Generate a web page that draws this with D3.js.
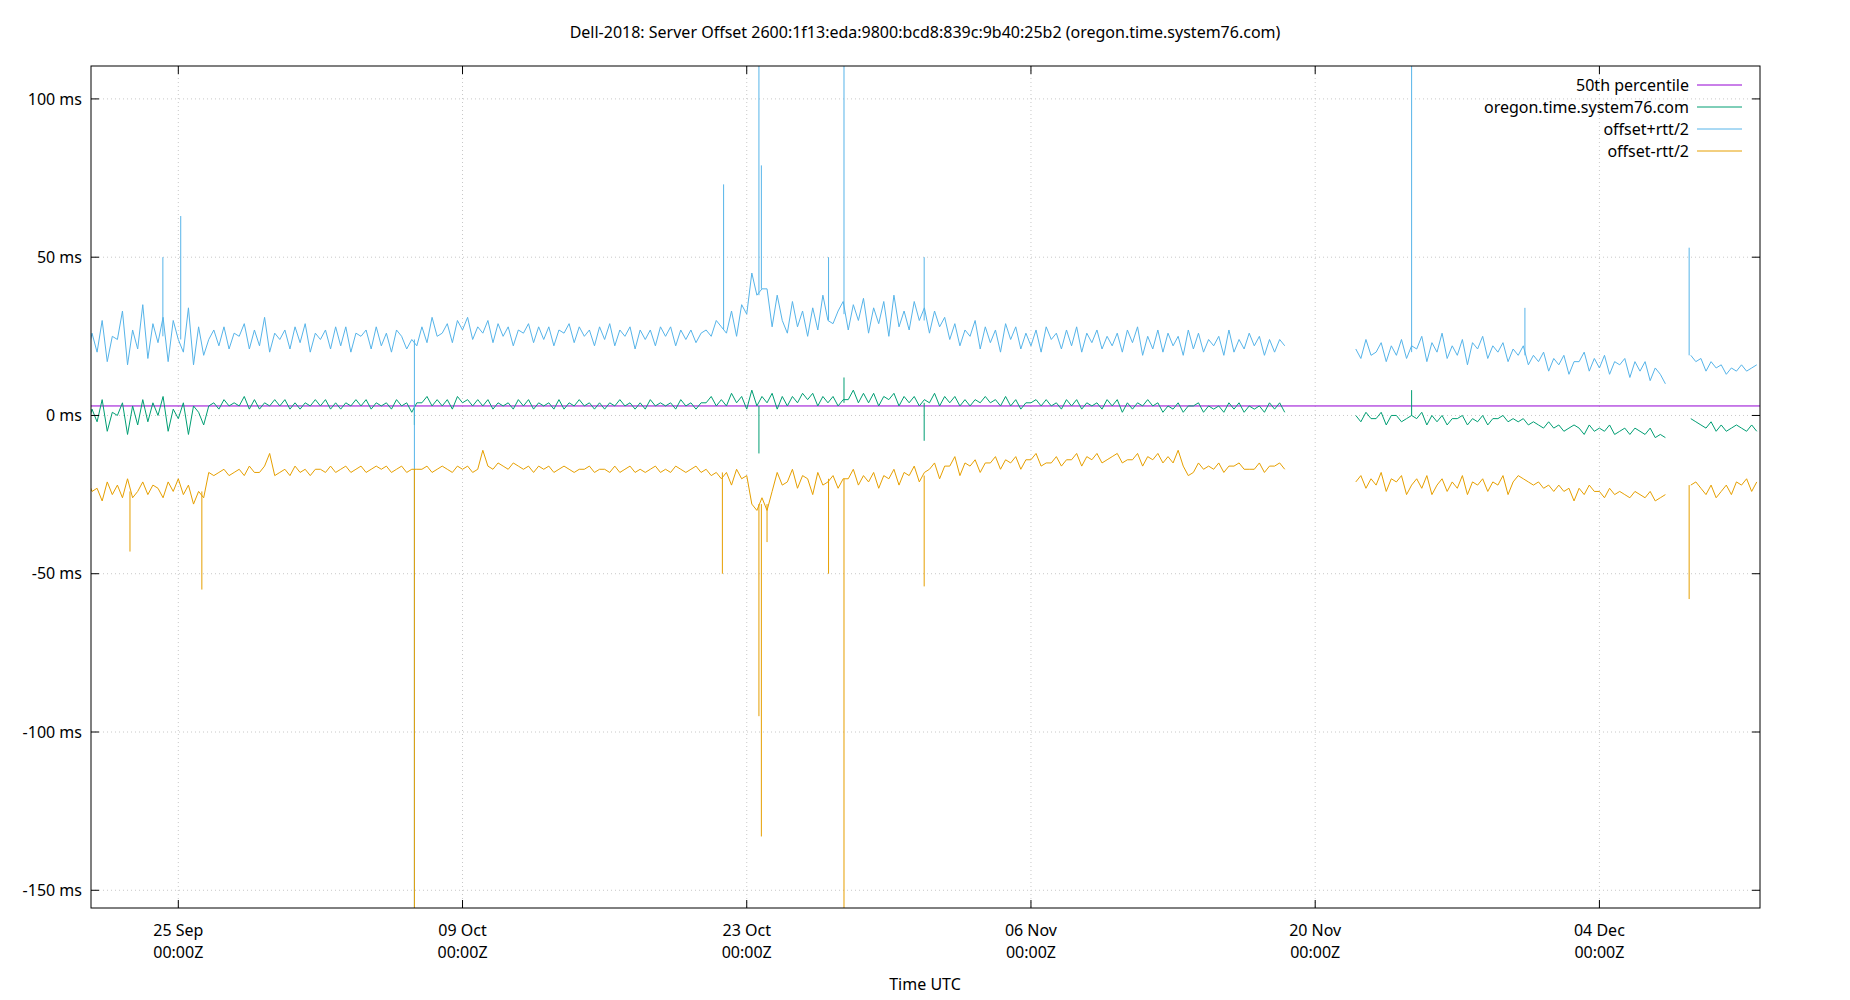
<!DOCTYPE html>
<html>
<head>
<meta charset="utf-8">
<script src="https://cdn.jsdelivr.net/npm/d3@7.9.0/dist/d3.min.js"></script>
<style>
  body { margin: 0; background: #fff; }
  text { font-family: "Noto Sans", sans-serif; fill: #000; }
</style>
</head>
<body>
<svg id="chart" width="1850" height="1000"></svg>
<script>
// samples every 6 hours, starting 2018-09-20 00:00Z (4 per row = one day)
const sampleStart = Date.UTC(2018, 8, 20);
const sampleStepHours = 6;

const offsetPlus = [
  22,28,18,26, 20,30,17,25, 24,33,16,27, 21,35,18,29, 23,31,17,30,
  24,20,34,16, 28,19,24,27, 22,28,21,26, 25,29,21,27, 22,31,20,26,
  24,27,21,28, 23,29,20,26, 24,27,21,28, 22,28,20,26, 25,27,21,28,
  22,26,20,27, 25,21,24,22, 28,23,31,25, 26,29,23,30, 27,31,24,28,
  26,30,23,29, 25,28,22,27, 26,29,23,28, 24,28,22,27, 26,29,23,28,
  25,27,22,28, 24,29,22,27, 25,28,21,27, 24,27,22,28, 25,28,22,27,
  24,27,23,26, 27,25,30,28, 26,33,25,35, 32,45,38,40, 40,28,38,30,
  26,36,28,33, 25,34,27,38, 30,29,33,36, 27,35,30,37, 26,34,29,36,
  25,38,28,33, 27,36,30,34, 26,33,28,31, 24,29,22,27, 25,30,21,28,
  23,27,20,29, 24,28,21,26, 22,27,20,28, 24,26,21,27, 22,28,20,26,
  23,27,21,25, 22,26,20,27, 23,28,19,25, 21,27,20,26, 22,25,19,27,
  21,26,20,24, 22,25,19,27, 20,24,21,26, 22,25,19,24, 20,24,22,null,
  null,null,null,null, null,null,null,null, null,null,null,null,
  21,18,24,19, 20,23,17,22, 19,24,18,22, 21,25,17,23, 20,26,18,22,
  19,24,16,23, 21,25,18,22, 20,23,17,21, 19,22,16,19, 17,20,14,18,
  16,19,13,17, 17,20,14,18, 15,19,13,17, 16,18,12,17, 14,17,11,15,
  13,10,null,null, null,null,19,17, 18,14,17,15, 16,13,15,14, 16,14,15,16
];

const offsetMid = [
  0,3,-4,2, -2,5,-5,1, 0,4,-6,3, -3,5,-2,4, 0,6,-5,2,
  -1,4,-6,3, 1,-3,3,4, 2,5,3,4, 3,6,2,5, 2,4,3,5,
  3,5,2,4, 2,4,3,5, 3,5,2,4, 2,4,3,5, 3,5,2,4,
  3,4,2,5, 3,4,1,4, 4,6,3,5, 3,5,2,6, 4,5,3,5,
  3,5,2,4, 3,4,2,5, 3,5,2,4, 3,4,2,5, 2,4,3,5,
  3,4,2,4, 2,4,3,5, 3,4,2,4, 2,5,3,4, 3,4,2,5,
  3,4,2,4, 4,6,3,5, 3,7,4,6, 2,8,3,6, 4,7,2,6,
  3,6,4,7, 5,7,3,6, 4,6,3,5, 5,8,4,7, 4,7,3,6,
  5,7,3,6, 4,6,3,5, 4,7,3,6, 4,6,3,5, 3,5,4,6,
  4,5,3,6, 3,5,2,4, 4,5,3,5, 3,4,2,5, 3,5,2,4,
  3,4,2,5, 3,5,1,4, 2,4,3,5, 3,4,1,3, 2,4,1,3,
  3,4,1,3, 2,3,1,4, 2,4,1,3, 2,3,1,4, 2,4,1,null,
  null,null,null,null, null,null,null,null, null,null,null,null,
  0,-2,1,-1, -1,1,-3,0, 0,-2,-1,0, -1,1,-3,0, -2,0,-3,-1,
  -1,0,-3,-1, -2,0,-3,-1, -1,0,-2,-1, -2,-1,-3,-2, -3,-4,-2,-4,
  -3,-5,-4,-3, -4,-6,-3,-5, -4,-5,-3,-6, -5,-4,-6,-4, -5,-6,-4,-7,
  -6,-7,null,null, null,null,-1,-2, -3,-4,-2,-5, -3,-5,-4,-3, -4,-5,-3,-5
];

const offsetMinus = [
  -22,-25,-20,-24, -23,-27,-21,-25, -22,-26,-20,-26, -24,-21,-25,-22, -23,-26,-21,-24,
  -20,-25,-22,-28, -24,-26,-18,-19, -18,-17,-19,-18, -17,-19,-16,-18, -18,-16,-12,-19,
  -18,-17,-19,-16, -18,-17,-19,-17, -17,-18,-16,-18, -17,-16,-18,-17, -16,-18,-17,-16,
  -17,-16,-18,-17, -16,-18,-17,-17, -17,-16,-18,-17, -16,-17,-18,-16, -17,-16,-18,-17,
  -11,-16,-17,-15, -16,-17,-15,-16, -17,-16,-18,-16, -17,-16,-18,-17, -16,-17,-18,-17,
  -17,-16,-18,-17, -17,-18,-16,-18, -17,-16,-18,-17, -18,-17,-16,-18, -17,-18,-16,-17,
  -18,-17,-16,-18, -17,-19,-18,-20, -18,-22,-17,-20, -19,-28,-30,-26, -30,-24,-18,-22,
  -21,-17,-23,-19, -20,-25,-18,-22, -21,-19,-23,-20, -20,-17,-22,-19, -21,-18,-23,-19,
  -20,-17,-22,-18, -19,-16,-21,-18, -17,-15,-20,-16, -16,-13,-19,-15, -16,-14,-18,-15,
  -15,-13,-17,-14, -15,-13,-17,-14, -14,-12,-16,-15, -15,-13,-16,-14, -14,-12,-16,-13,
  -14,-12,-15,-14, -13,-12,-15,-14, -14,-12,-16,-13, -14,-12,-15,-13, -15,-11,-16,-19,
  -18,-15,-17,-16, -17,-15,-18,-16, -16,-15,-17,-17, -17,-15,-18,-16, -16,-15,-17,null,
  null,null,null,null, null,null,null,null, null,null,null,null,
  -21,-19,-23,-20, -22,-18,-24,-20, -21,-19,-25,-22, -20,-23,-19,-25, -22,-20,-24,-21,
  -23,-19,-25,-21, -22,-20,-24,-21, -22,-19,-25,-21, -19,-20,-21,-22, -21,-23,-22,-24,
  -22,-24,-23,-27, -23,-25,-22,-24, -24,-26,-23,-25, -24,-25,-26,-24, -25,-26,-24,-27,
  -26,-25,null,null, null,null,-22,-21, -23,-25,-22,-26, -24,-22,-25,-21, -22,-20,-24,-21
];

// single-sample outliers: [day since start, from ms, to ms]
const spikesPlus = [
  [4.24, 25, 50], [5.12, 24, 63], [16.63, 24, -160], [31.86, 27, 73], [33.6, 38, 140],
  [33.72, 40, 79], [37.03, 30, 50], [37.79, 32, 140], [41.74, 30, 50], [65.75, 20, 140],
  [71.33, 19, 34], [79.42, 19, 53]
];
const spikesMid = [[33.6, 3, -12], [37.79, 4, 12], [65.75, 0, 8], [41.74, 4, -8], [16.63, 3, -3]];
const spikesMinus = [
  [2.62, -24, -43], [6.16, -24, -55], [16.63, -17, -160], [31.8, -18, -50], [33.6, -28, -95],
  [33.72, -28, -133], [34.0, -28, -40], [37.03, -20, -50], [37.79, -20, -160], [41.74, -19, -54],
  [79.42, -22, -58]
];

const percentile50 = 3;

const seriesNames = ["50th percentile", "oregon.time.system76.com", "offset+rtt/2", "offset-rtt/2"];
const seriesColors = ["#9400d3", "#009e73", "#56b4e9", "#e69f00"];

const yTicks = [100, 50, 0, -50, -100, -150];
const xTickDates = ["2018-09-25", "2018-10-09", "2018-10-23", "2018-11-06", "2018-11-20", "2018-12-04"];

const title = "Dell-2018: Server Offset 2600:1f13:eda:9800:bcd8:839c:9b40:25b2 (oregon.time.system76.com)";

// ---- layout
const margin = { left: 91, right: 1760, top: 66, bottom: 908 };
const svg = d3.select("#chart");

const day = 86400000;
const x = d3.scaleUtc()
  .domain([new Date(sampleStart + 0.70 * day), new Date(sampleStart + 82.91 * day)])
  .range([margin.left, margin.right]);
const y = d3.scaleLinear().domain([-155.6, 110.4]).range([margin.bottom, margin.top]);

const times = offsetMid.map((_, i) => new Date(sampleStart + i * sampleStepHours * 3600000));

svg.append("defs").append("clipPath").attr("id", "clip")
  .append("rect").attr("x", margin.left).attr("y", margin.top)
  .attr("width", margin.right - margin.left).attr("height", margin.bottom - margin.top);

// grid
const grid = svg.append("g").attr("stroke", "#c8c8c8").attr("stroke-dasharray", "1,3");
grid.selectAll(".gy").data(yTicks).join("line")
  .attr("x1", margin.left).attr("x2", margin.right)
  .attr("y1", d => y(d)).attr("y2", d => y(d));
grid.selectAll(".gx").data(xTickDates).join("line")
  .attr("x1", d => x(new Date(d))).attr("x2", d => x(new Date(d)))
  .attr("y1", margin.top).attr("y2", margin.bottom);

// lines
const line = d3.line()
  .defined(d => d[1] !== null)
  .x(d => x(d[0])).y(d => y(d[1]));

const plot = svg.append("g").attr("clip-path", "url(#clip)").attr("fill", "none").attr("stroke-width", 1);
plot.append("line")
  .attr("x1", margin.left).attr("x2", margin.right)
  .attr("y1", y(percentile50)).attr("y2", y(percentile50))
  .attr("stroke", seriesColors[0]);
[[offsetMid, spikesMid], [offsetPlus, spikesPlus], [offsetMinus, spikesMinus]].forEach(([vals, spikes], k) => {
  plot.append("path")
    .attr("d", line(vals.map((v, i) => [times[i], v])))
    .attr("stroke", seriesColors[k + 1]);
  plot.selectAll(null).data(spikes).join("line")
    .attr("x1", d => x(new Date(sampleStart + d[0] * day)))
    .attr("x2", d => x(new Date(sampleStart + d[0] * day)))
    .attr("y1", d => y(d[1])).attr("y2", d => y(d[2]))
    .attr("stroke", seriesColors[k + 1]);
});

// frame + ticks
svg.append("rect").attr("x", margin.left).attr("y", margin.top)
  .attr("width", margin.right - margin.left).attr("height", margin.bottom - margin.top)
  .attr("fill", "none").attr("stroke", "#000");

const ticks = svg.append("g").attr("stroke", "#000");
yTicks.forEach(t => {
  ticks.append("line").attr("x1", margin.left).attr("x2", margin.left + 8).attr("y1", y(t)).attr("y2", y(t));
  ticks.append("line").attr("x1", margin.right).attr("x2", margin.right - 8).attr("y1", y(t)).attr("y2", y(t));
});
xTickDates.forEach(t => {
  const px = x(new Date(t));
  ticks.append("line").attr("x1", px).attr("x2", px).attr("y1", margin.bottom).attr("y2", margin.bottom - 8);
  ticks.append("line").attr("x1", px).attr("x2", px).attr("y1", margin.top).attr("y2", margin.top + 8);
});

const fs = "16px";
svg.selectAll(".ylab").data(yTicks).join("text")
  .attr("x", margin.left - 9).attr("y", d => y(d)).attr("dy", "0.35em")
  .attr("text-anchor", "end").style("font-size", fs)
  .text(d => d + " ms");

const fmt = d3.utcFormat("%d %b");
xTickDates.forEach(t => {
  const px = x(new Date(t));
  const tx = svg.append("text").attr("text-anchor", "middle").style("font-size", fs);
  tx.append("tspan").attr("x", px).attr("y", 936).text(fmt(new Date(t)));
  tx.append("tspan").attr("x", px).attr("y", 958).text("00:00Z");
});

svg.append("text").attr("x", 925).attr("y", 990).attr("text-anchor", "middle")
  .style("font-size", fs).text("Time UTC");
svg.append("text").attr("x", 925).attr("y", 38).attr("text-anchor", "middle")
  .style("font-size", fs).text(title);

// legend
const legend = svg.append("g");
seriesNames.forEach((name, i) => {
  const ly = 85 + i * 22;
  legend.append("text").attr("x", 1689).attr("y", ly).attr("dy", "0.35em")
    .attr("text-anchor", "end").style("font-size", fs).text(name);
  legend.append("line").attr("x1", 1697).attr("x2", 1742).attr("y1", ly).attr("y2", ly)
    .attr("stroke", seriesColors[i]);
});
</script>
</body>
</html>
